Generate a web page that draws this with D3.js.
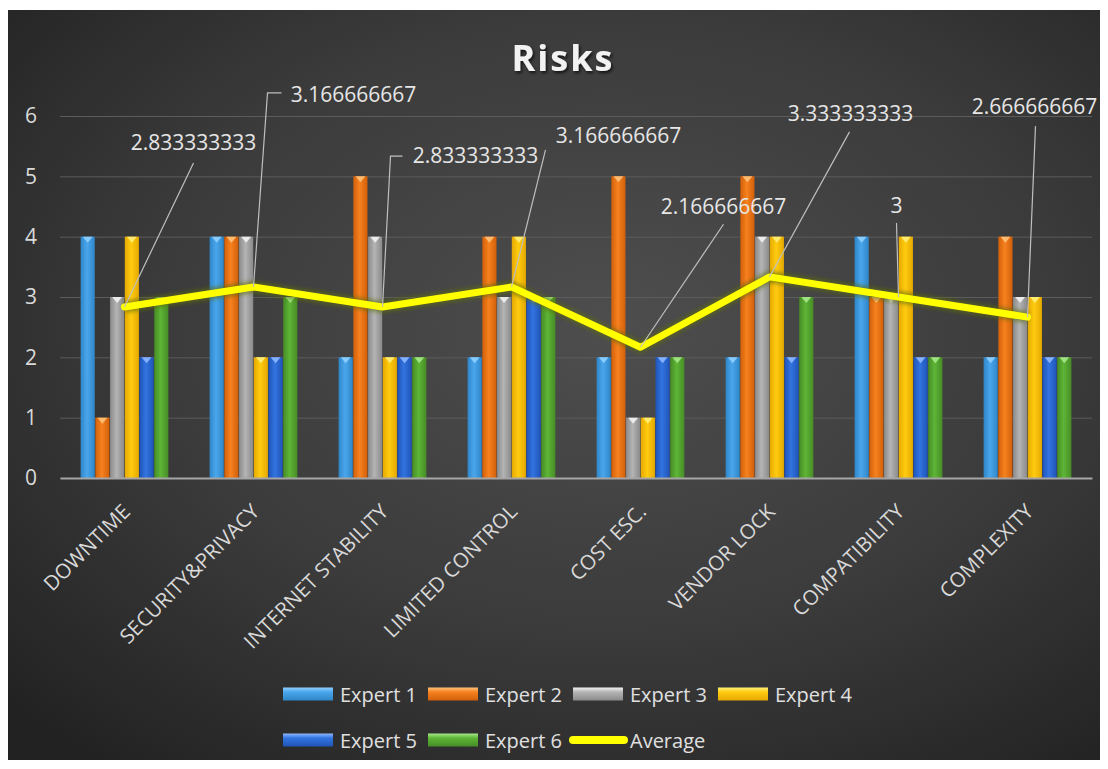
<!DOCTYPE html>
<html>
<head>
<meta charset="utf-8">
<script src="https://cdn.jsdelivr.net/npm/d3@7"></script>
<style>
  body { margin: 0; background: #fff; }
  text { font-family: "Open Sans", "DejaVu Sans", sans-serif; }
</style>
</head>
<body>
<div id="chart"></div>
<script>
// data
var categories = ["DOWNTIME", "SECURITY&PRIVACY", "INTERNET STABILITY", "LIMITED CONTROL",
                  "COST ESC.", "VENDOR LOCK", "COMPATIBILITY", "COMPLEXITY"];
var seriesNames = ["Expert 1", "Expert 2", "Expert 3", "Expert 4", "Expert 5", "Expert 6"];
var expert1 = [4, 4, 2, 2, 2, 2, 4, 2];
var expert2 = [1, 4, 5, 4, 5, 5, 3, 4];
var expert3 = [3, 4, 4, 3, 1, 4, 3, 3];
var expert4 = [4, 2, 2, 4, 1, 4, 4, 3];
var expert5 = [2, 2, 2, 3, 2, 2, 2, 2];
var expert6 = [3, 3, 2, 3, 2, 3, 2, 2];
var average = [2.833333333, 3.166666667, 2.833333333, 3.166666667,
               2.166666667, 3.333333333, 3, 2.666666667];
var averageLabels = ["2.833333333", "3.166666667", "2.833333333", "3.166666667",
                     "2.166666667", "3.333333333", "3", "2.666666667"];
var yTicks = [0, 1, 2, 3, 4, 5, 6];

var seriesValues = [expert1, expert2, expert3, expert4, expert5, expert6];

// colours: [edge, centre, top triangle]
var barColors = [
  ["#2f86c8", "#4aa6ec", "#8fd0ff"],
  ["#d2600a", "#f7811f", "#ffc27a"],
  ["#8a8a8a", "#b4b4b4", "#f2f2f2"],
  ["#e5a800", "#ffcc10", "#fff07a"],
  ["#1f54b8", "#3274e0", "#8fb8ff"],
  ["#468c27", "#5eb536", "#a6e88a"]
];

// data label placement relative to its point: label centre dx, baseline dy,
// leader end dx/dy and an optional hook (horizontal stub)
var labelLayout = [
  {dx: 69,  dy: -157, lx: 69,  ly: -144},
  {dx: 100, dy: -185, lx: 14,  ly: -194, hook: 14},
  {dx: 93,  dy: -144, lx: 8,   ly: -151, hook: 12},
  {dx: 107, dy: -144, lx: 34,  ly: -137},
  {dx: 83,  dy: -133, lx: 83,  ly: -123},
  {dx: 81,  dy: -156, lx: 80,  ly: -145},
  {dx: -2,  dy: -84,  lx: -2,  ly: -74},
  {dx: 7,   dy: -203, lx: 8,   ly: -191}
];

var svg_width = 1108, svg_height = 769;
var plot = {left: 60, right: 1092, top: 116, bottom: 478};

var svg = d3.select("#chart").append("svg")
  .attr("width", svg_width)
  .attr("height", svg_height);

var defs = svg.append("defs");

var bg = defs.append("radialGradient").attr("id", "bg")
  .attr("cx", "55%").attr("cy", "42%").attr("r", "75%");
bg.append("stop").attr("offset", "0%").attr("stop-color", "#4e4e4e");
bg.append("stop").attr("offset", "55%").attr("stop-color", "#3b3b3b");
bg.append("stop").attr("offset", "100%").attr("stop-color", "#222222");

barColors.forEach(function(c, i) {
  var g = defs.append("linearGradient").attr("id", "bar" + i)
    .attr("x1", "0%").attr("x2", "100%").attr("y1", "0%").attr("y2", "0%");
  g.append("stop").attr("offset", "0%").attr("stop-color", c[0]);
  g.append("stop").attr("offset", "45%").attr("stop-color", c[1]);
  g.append("stop").attr("offset", "100%").attr("stop-color", c[0]);

  var s = defs.append("linearGradient").attr("id", "sw" + i)
    .attr("x1", "0%").attr("x2", "0%").attr("y1", "0%").attr("y2", "100%");
  s.append("stop").attr("offset", "0%").attr("stop-color", c[2]);
  s.append("stop").attr("offset", "35%").attr("stop-color", c[1]);
  s.append("stop").attr("offset", "100%").attr("stop-color", c[0]);
});

var glow = defs.append("filter").attr("id", "glow")
  .attr("x", "-10%").attr("y", "-50%").attr("width", "120%").attr("height", "200%");
glow.append("feGaussianBlur").attr("stdDeviation", 2);

var shadow = defs.append("filter").attr("id", "shadow");
shadow.append("feDropShadow").attr("dx", 1.5).attr("dy", 2).attr("stdDeviation", 1.5)
  .attr("flood-color", "#000").attr("flood-opacity", 0.7);

svg.append("rect")
  .attr("x", 8).attr("y", 10)
  .attr("width", 1092).attr("height", 750)
  .attr("fill", "url(#bg)");

svg.append("text")
  .attr("x", 563).attr("y", 71)
  .attr("text-anchor", "middle")
  .attr("font-size", 36)
  .attr("font-weight", "bold")
  .attr("letter-spacing", 2)
  .attr("fill", "#f2f2f2")
  .attr("filter", "url(#shadow)")
  .text("Risks");

var x0 = d3.scaleBand().domain(categories).range([plot.left, plot.right]);
var x1 = d3.scaleBand().domain(seriesNames).range([0, x0.bandwidth()])
  .paddingOuter(1.4).paddingInner(0.04);
var y = d3.scaleLinear().domain([0, 6]).range([plot.bottom, plot.top]);

// gridlines + y labels
var left_axis = d3.axisLeft(y).tickValues(yTicks).tickFormat(d3.format("d"))
  .tickSize(-(plot.right - plot.left)).tickPadding(23);
var yg = svg.append("g")
  .attr("transform", `translate(${plot.left},0)`)
  .call(left_axis);
yg.select(".domain").remove();
yg.selectAll("line").attr("stroke", "#5c5c5c").attr("stroke-width", 1);
yg.selectAll("text").attr("fill", "#d9d9d9").attr("font-size", 21)
  .style("font-family", "'Open Sans', sans-serif");

// bars
seriesValues.forEach(function(vals, si) {
  var grp = svg.append("g");
  grp.selectAll("rect")
    .data(vals)
    .enter()
    .append("rect")
    .attr("x", (d, i) => x0(categories[i]) + x1(seriesNames[si]))
    .attr("y", d => y(d))
    .attr("width", x1.bandwidth())
    .attr("height", d => y(0) - y(d))
    .attr("fill", "url(#bar" + si + ")");
  grp.selectAll("path")
    .data(vals)
    .enter()
    .append("path")
    .attr("d", function(d, i) {
      var bx = x0(categories[i]) + x1(seriesNames[si]);
      var bw = x1.bandwidth();
      return "M" + (bx + bw * 0.15) + "," + y(d) + "L" + (bx + bw * 0.85) + "," + y(d) +
             "L" + (bx + bw / 2) + "," + (y(d) + 6) + "Z";
    })
    .attr("fill", barColors[si][2])
    .attr("opacity", 0.9);
});

// x axis
var bottom_axis = d3.axisBottom(x0).tickSize(0).tickSizeOuter(0);
var xg = svg.append("g")
  .attr("transform", `translate(0,${plot.bottom})`)
  .call(bottom_axis);
xg.select(".domain").attr("stroke", "#a6a6a6").attr("stroke-width", 2);
xg.selectAll("text")
  .attr("x", 0).attr("y", 0).attr("dy", 0)
  .attr("text-anchor", "end")
  .attr("transform", "translate(7,35) rotate(-45)")
  .attr("fill", "#d9d9d9")
  .attr("font-size", 20.5)
  .style("font-family", "'Open Sans', sans-serif");

// average line
var px = (d, i) => x0(categories[i]) + x0.bandwidth() / 2;
var avgLine = d3.line().x(px).y(d => y(d));

svg.append("path")
  .datum(average)
  .attr("d", avgLine)
  .attr("fill", "none")
  .attr("stroke", "#5f6d10")
  .attr("stroke-width", 11)
  .attr("stroke-linejoin", "round")
  .attr("opacity", 0.7)
  .attr("filter", "url(#glow)");
svg.append("path")
  .datum(average)
  .attr("d", avgLine)
  .attr("fill", "none")
  .attr("stroke", "#ffff00")
  .attr("stroke-width", 7)
  .attr("stroke-linejoin", "round")
  .attr("stroke-linecap", "round");

// leader lines + labels
var lab = svg.append("g");
average.forEach(function(v, i) {
  var p = [px(v, i), y(v)];
  var L = labelLayout[i];
  var pts = [p, [p[0] + L.lx, p[1] + L.ly]];
  if (L.hook) pts.push([p[0] + L.lx + L.hook, p[1] + L.ly]);
  lab.append("path")
    .attr("d", d3.line()(pts))
    .attr("fill", "none")
    .attr("stroke", "#bfbfbf")
    .attr("stroke-width", 1.2);
  lab.append("text")
    .attr("x", p[0] + L.dx)
    .attr("y", p[1] + L.dy)
    .attr("text-anchor", "middle")
    .attr("font-size", 21)
    .attr("fill", "#e6e6e6")
    .text(averageLabels[i]);
});

// legend
var legendItems = seriesNames.concat(["Average"]);
var legendPos = [[283, 694], [428, 694], [573, 694], [718, 694],
                 [283, 740], [428, 740], [569, 740]];
var leg = svg.append("g");
legendItems.forEach(function(name, i) {
  var lp = legendPos[i];
  if (i < 6) {
    leg.append("rect")
      .attr("x", lp[0]).attr("y", lp[1] - 6.5)
      .attr("width", 50).attr("height", 13)
      .attr("fill", "url(#sw" + i + ")");
    leg.append("text")
      .attr("x", lp[0] + 57).attr("y", lp[1] + 7.5)
      .attr("font-size", 20).attr("fill", "#e0e0e0")
      .text(name);
  } else {
    leg.append("line")
      .attr("x1", lp[0] + 4).attr("x2", lp[0] + 55)
      .attr("y1", lp[1]).attr("y2", lp[1])
      .attr("stroke", "#ffff00").attr("stroke-width", 8)
      .attr("stroke-linecap", "round");
    leg.append("text")
      .attr("x", lp[0] + 61).attr("y", lp[1] + 7.5)
      .attr("font-size", 20).attr("fill", "#e0e0e0")
      .text(name);
  }
});
</script>
</body>
</html>
